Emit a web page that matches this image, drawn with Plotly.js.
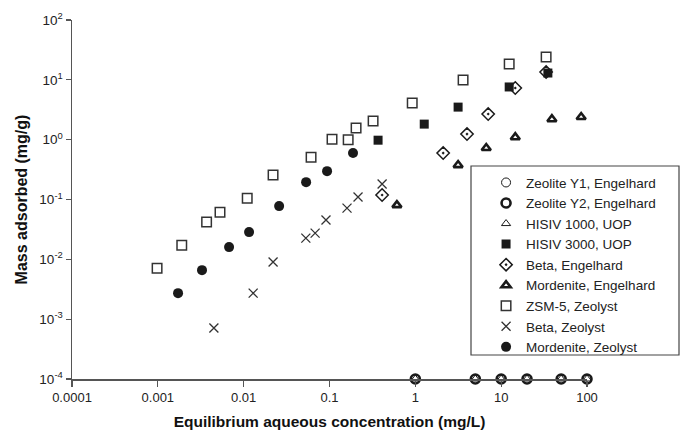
<!DOCTYPE html>
<html>
<head>
<meta charset="utf-8">
<script src="https://cdn.plot.ly/plotly-3.0.1.min.js"></script>
<style>html,body{margin:0;padding:0;background:#fff;}#chart{width:682px;height:435px;}</style>
</head>
<body>
<div id="chart"></div>
<script>
// ---- data ----
const belowX = [1, 5, 10, 20, 50, 100];
const belowY = [1e-4, 1e-4, 1e-4, 1e-4, 1e-4, 1e-4];

const hisiv3000X = [0.368, 1.27, 3.15, 12.4, 35];
const hisiv3000Y = [0.98, 1.82, 3.5, 7.6, 13];

const betaEngX = [0.41, 2.11, 4.0, 7.06, 14.6, 33.4];
const betaEngY = [0.119, 0.597, 1.24, 2.68, 7.3, 13.5];

const mordEngX = [0.61, 3.15, 6.7, 14.6, 39, 85.5];
const mordEngY = [0.0805, 0.376, 0.725, 1.10, 2.2, 2.39];

const zsmX = [0.00098, 0.0019, 0.0037, 0.0053, 0.011, 0.022, 0.061, 0.107, 0.165, 0.204, 0.322, 0.92, 3.6, 12.4, 33.4];
const zsmY = [0.0071, 0.0172, 0.042, 0.0615, 0.105, 0.256, 0.51, 1.02, 1.0, 1.56, 2.05, 4.1, 9.9, 18.4, 24];

const betaZeoX = [0.0045, 0.0129, 0.022, 0.053, 0.068, 0.091, 0.160, 0.215, 0.41];
const betaZeoY = [0.00071, 0.00272, 0.009, 0.0226, 0.0274, 0.0453, 0.0718, 0.110, 0.181];

const mordZeoX = [0.00172, 0.00327, 0.00676, 0.01156, 0.0259, 0.0534, 0.0937, 0.188];
const mordZeoY = [0.00272, 0.0066, 0.016, 0.0285, 0.0776, 0.195, 0.298, 0.597];

const seriesNames = ["Zeolite Y1, Engelhard", "Zeolite Y2, Engelhard", "HISIV 1000, UOP", "HISIV 3000, UOP",
  "Beta, Engelhard", "Mordenite, Engelhard", "ZSM-5, Zeolyst", "Beta, Zeolyst", "Mordenite, Zeolyst"];

const xTickVals = [0.0001, 0.001, 0.01, 0.1, 1, 10, 100];
const xTickText = ["0.0001", "0.001", "0.01", "0.1", "1", "10", "100"];
const yTickVals = [1e-4, 1e-3, 1e-2, 1e-1, 1, 10, 100];
const yTickText = ["10<sup>-4</sup>", "10<sup>-3</sup>", "10<sup>-2</sup>", "10<sup>-1</sup>", "10<sup>0</sup>", "10<sup>1</sup>", "10<sup>2</sup>"];

// ---- styling ----
const ink = "#1a1a1a";
function tr(name, x, y, marker) {
  return {type: "scatter", mode: "markers", name: name, x: x, y: y, marker: marker, cliponaxis: false};
}
const traces = [
  tr(seriesNames[0], belowX, belowY, {symbol: "circle-open", size: 9, line: {color: ink, width: 1}, color: ink}),
  tr(seriesNames[1], belowX, belowY, {symbol: "circle-open", size: 9, line: {color: ink, width: 2.6}, color: ink}),
  tr(seriesNames[2], belowX, belowY, {symbol: "triangle-up-open", size: 8, line: {color: ink, width: 1}, color: ink}),
  tr(seriesNames[3], hisiv3000X, hisiv3000Y, {symbol: "square", size: 9, color: ink, line: {width: 0}}),
  tr(seriesNames[4], betaEngX, betaEngY, {symbol: "diamond-open-dot", size: 9.5, line: {color: ink, width: 1.5}, color: ink}),
  tr(seriesNames[5], mordEngX, mordEngY, {symbol: "triangle-up-open", size: 8, line: {color: ink, width: 2.6}, color: ink}),
  tr(seriesNames[6], zsmX, zsmY, {symbol: "square-open", size: 9.5, line: {color: "#333", width: 1.5}, color: "#333"}),
  tr(seriesNames[7], betaZeoX, betaZeoY, {symbol: "x-thin-open", size: 9, line: {color: "#333", width: 1.3}, color: "#333"}),
  tr(seriesNames[8], mordZeoX, mordZeoY, {symbol: "circle", size: 10, color: ink, line: {width: 0}})
];

const fontFam = "Arial, 'Liberation Sans', sans-serif";
const layout = {
  width: 682, height: 435,
  margin: {l: 72, r: 95, t: 20, b: 56},
  paper_bgcolor: "#fff", plot_bgcolor: "#fff",
  font: {family: fontFam, color: "#222", size: 12},
  showlegend: true,
  legend: {
    x: 0.804, xanchor: "left", y: 0.59, yanchor: "top",
    bgcolor: "rgba(0,0,0,0)", borderwidth: 0,
    font: {family: fontFam, size: 13.5, color: "#222"},
    tracegroupgap: 0
  },
  xaxis: {
    type: "log", range: [-4, 2],
    tickmode: "array", tickvals: xTickVals, ticktext: xTickText,
    ticks: "outside", ticklen: 6, tickwidth: 1.2, tickcolor: "#555",
    showline: true, linecolor: "#555", linewidth: 1.5,
    showgrid: false, zeroline: false,
    tickfont: {family: fontFam, size: 13, color: "#222"},
    title: {text: "Equilibrium aqueous concentration (mg/L)", font: {family: fontFam, size: 15.5, color: "#111", weight: "bold"}, standoff: 12}
  },
  yaxis: {
    type: "log", range: [-4, 2],
    tickmode: "array", tickvals: yTickVals, ticktext: yTickText,
    ticks: "outside", ticklen: 5, tickwidth: 1.2, tickcolor: "#555",
    showline: true, linecolor: "#555", linewidth: 1.5,
    showgrid: false, zeroline: false,
    tickfont: {family: fontFam, size: 13.5, color: "#222"},
    title: {text: "Mass adsorbed (mg/g)", font: {family: fontFam, size: 16, color: "#111", weight: "bold"}, standoff: 8}
  },
  shapes: [{
    type: "rect", xref: "paper", yref: "paper",
    x0: (471 - 72) / 515, x1: (679 - 72) / 515,
    y0: (379 - 355) / 359, y1: (379 - 166) / 359,
    line: {color: "#444", width: 1.2}, fillcolor: "rgba(0,0,0,0)", layer: "above"
  }]
};

Plotly.newPlot("chart", traces, layout, {staticPlot: true, displayModeBar: false});
</script>
</body>
</html>
